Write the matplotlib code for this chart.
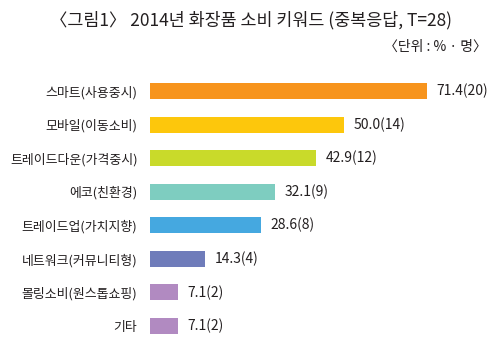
import numpy as np
import matplotlib.pyplot as plt

plt.rcParams['font.family'] = ['Noto Sans CJK KR', 'DejaVu Sans']

# 데이터
categories = ["스마트(사용중시)", "모바일(이동소비)", "트레이드다운(가격중시)", "에코(친환경)",
              "트레이드업(가치지향)", "네트워크(커뮤니티형)", "몰링소비(원스톱쇼핑)", "기타"]
percent = [71.4, 50.0, 42.9, 32.1, 28.6, 14.3, 7.1, 7.1]
counts = [20, 14, 12, 9, 8, 4, 2, 2]
colors = ["#F7941D", "#FDC70C", "#C9DA2A", "#7ECDC0", "#45A8E0", "#6F7CBA", "#B18AC1", "#B18AC1"]

fig = plt.figure(figsize=(5.02, 3.60), dpi=100)
ax = fig.add_axes([150/502, 1 - 342.8/360, 340/502, (342.8 - 74.2)/360])

y = np.arange(len(categories))
ax.barh(y, percent, height=0.48, color=colors)
ax.set_ylim(len(categories) - 0.5, -0.5)
ax.set_xlim(0, 71.4 * 340 / 277)

for i, (p, c) in enumerate(zip(percent, counts)):
    ax.text(p + 2.5, i, f"{p:.1f}({c})", va="center", ha="left", fontsize=10, color="#231F20")

ax.set_yticks(y)
ax.set_yticklabels(categories, fontsize=9.3, color="#231F20")
ax.tick_params(axis="y", length=0, pad=9)
ax.set_xticks([])
for s in ax.spines.values():
    s.set_visible(False)

fig.text(0.5, 1 - 20/360, "〈그림1〉 2014년 화장품 소비 키워드 (중복응답, T=28)",
         ha="center", va="center", fontsize=12.5, color="#231F20")
fig.text(487/502, 1 - 47/360, "〈단위 : % · 명〉", ha="right", va="center",
         fontsize=10, color="#231F20")

fig.savefig("out.png", dpi=100)
